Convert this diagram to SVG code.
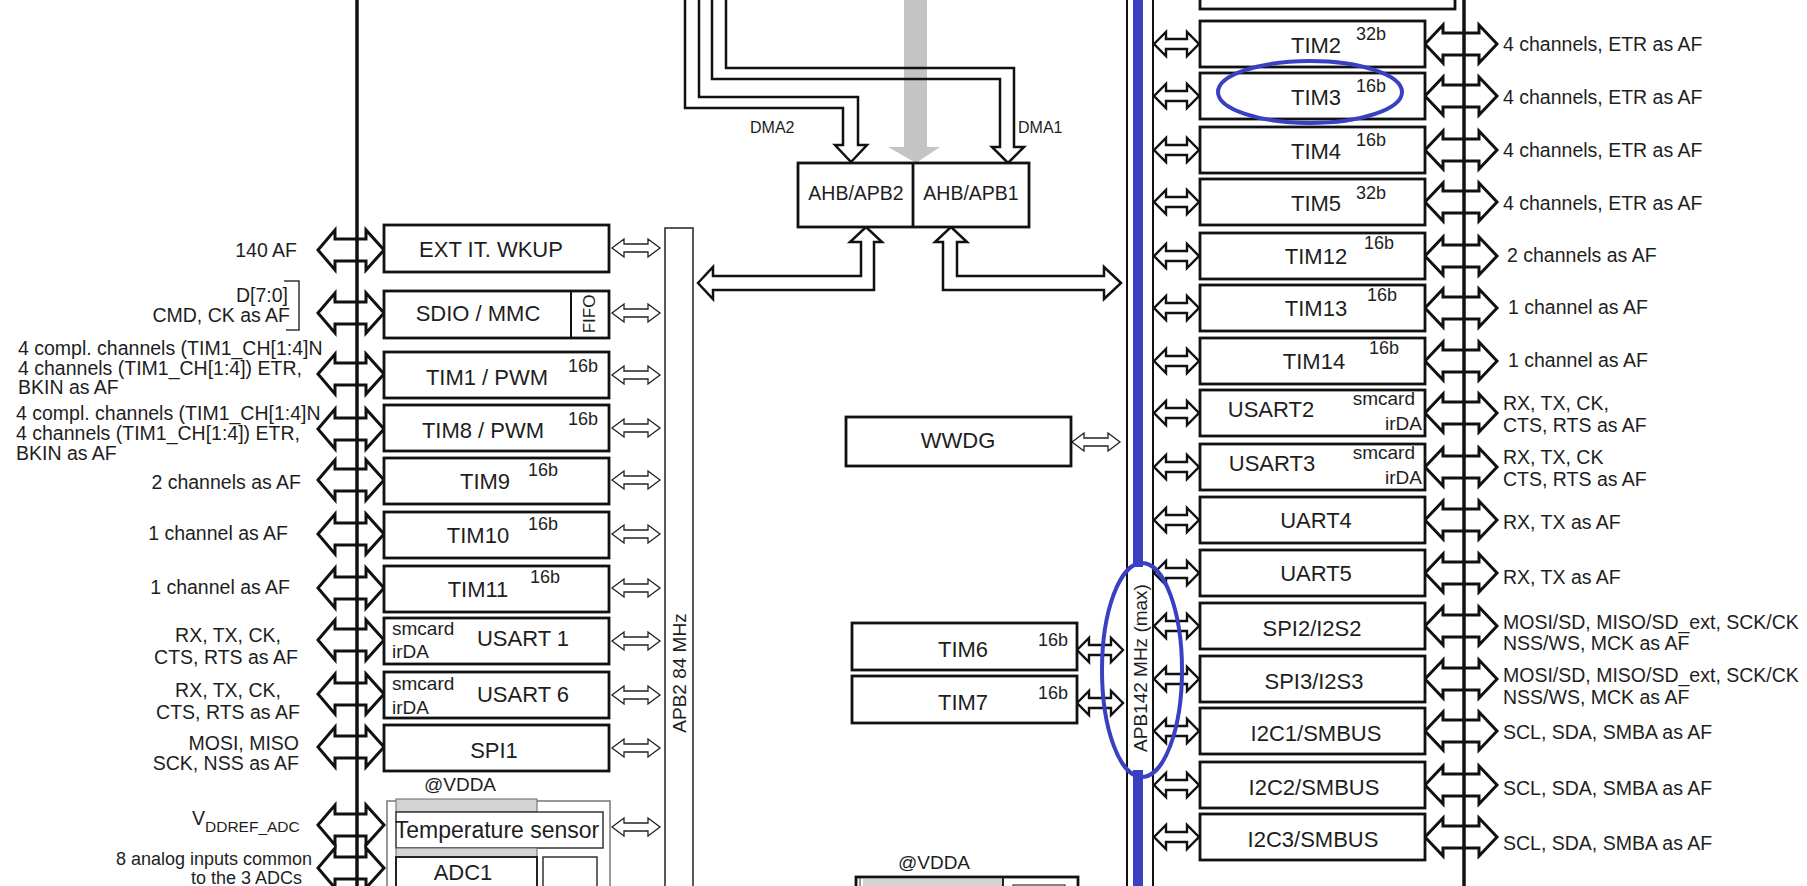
<svg xmlns="http://www.w3.org/2000/svg" width="1807" height="886" viewBox="0 0 1807 886">
<defs>
<style>
text{font-family:"Liberation Sans",Arial,sans-serif;fill:#1e1e1e}
.bx{font-size:22px;text-anchor:middle}
.lb{font-size:19.5px}
.sp{font-size:18px;text-anchor:middle}
.sm{font-size:19px}
.end{text-anchor:end}
.mid{text-anchor:middle}
.box{fill:#fff;stroke:#111;stroke-width:2.8}
.fat{fill:#fff;stroke:#111;stroke-width:3}
.thin{fill:#fff;stroke:#222;stroke-width:1.3}
.med{fill:#fff;stroke:#111;stroke-width:2.4}
.ln{fill:none;stroke:#111;stroke-width:2.5}
.bus{stroke:#111;stroke-width:3.5}
.hl{fill:none;stroke:#3a40c2;stroke-width:4}
</style>
<path id="fl" d="M318,0 L335,-20 V-11 H366 V-20 L384,0 L366,20 V11 H335 V20 Z"/>
<path id="fr" d="M1425,0 L1443,-19 V-11 H1479 V-19 L1497,0 L1479,19 V11 H1443 V19 Z"/>
<path id="sl" d="M612,0 L624,-9 V-4 H648 V-9 L660,0 L648,9 V4 H624 V9 Z"/>
<path id="sr" d="M1154,0 L1166,-12 V-5 H1187 V-12 L1199,0 L1187,12 V5 H1166 V12 Z"/>
<path id="s6" d="M1077,0 L1089,-12 V-5 H1111 V-12 L1123,0 L1111,12 V5 H1089 V12 Z"/>
</defs>
<rect width="1807" height="886" fill="#fff"/>

<!-- bus bars -->
<g id="apb2-bus">
<rect x="665" y="228" width="28" height="680" fill="#fff" stroke="#222" stroke-width="1.5"/>
<text class="sm mid" transform="translate(686,673) rotate(-90)">APB2 84 MHz</text>
</g>
<g id="apb1-bus">
<line x1="1127" y1="0" x2="1127" y2="886" stroke="#111" stroke-width="2"/>
<line x1="1153" y1="0" x2="1153" y2="886" stroke="#111" stroke-width="2"/>
<line x1="1138" y1="0" x2="1138" y2="567" stroke="#3a40c2" stroke-width="10"/>
<line x1="1138" y1="770" x2="1138" y2="886" stroke="#3a40c2" stroke-width="10"/>
<text class="sm mid" transform="translate(1147,668) rotate(-90)">APB142 MHz (max)</text>
</g>

<g id="connectors">
<!-- gray AHB arrow -->
<path d="M904,0 V147 H888 L916,163 L940,147 H927 V0 Z" fill="#c4c4c4"/>
<!-- DMA2 -->
<path class="ln" d="M685,0 V108 H843 V145 H835 L851,162 L867,145 H858 V97 H699 V0"/>
<!-- DMA1 -->
<path class="ln" d="M712,0 V79 H1000 V147 H992 L1008,163 L1024,147 H1014 V68 H726 V0"/>
<!-- AHB/APB2 to APB2 -->
<path class="ln" fill="#fff" d="M698,283 L713,267 V276 H861 V242 H850 L866,227 L882,242 H874 V290 H713 V299 Z"/>
<!-- AHB/APB1 to APB1 -->
<path class="ln" fill="#fff" d="M1121,283 L1104,267 V276 H957 V242 H967 L951,227 L935,242 H943 V290 H1104 V299 Z"/>
<!-- left fat arrows -->
<use href="#fl" class="fat" y="250"/>
<use href="#fl" class="fat" y="313"/>
<use href="#fl" class="fat" y="374"/>
<use href="#fl" class="fat" y="429"/>
<use href="#fl" class="fat" y="480"/>
<use href="#fl" class="fat" y="534"/>
<use href="#fl" class="fat" y="588"/>
<use href="#fl" class="fat" y="640"/>
<use href="#fl" class="fat" y="694"/>
<use href="#fl" class="fat" y="747"/>
<use href="#fl" class="fat" y="825"/>
<use href="#fl" class="fat" y="868"/>
<use href="#fl" class="fat" y="912"/>
<line class="bus" x1="357" y1="0" x2="357" y2="886"/>
<!-- right fat arrows -->
<use href="#fr" class="fat" y="44"/>
<use href="#fr" class="fat" y="96"/>
<use href="#fr" class="fat" y="150"/>
<use href="#fr" class="fat" y="202"/>
<use href="#fr" class="fat" y="256"/>
<use href="#fr" class="fat" y="308"/>
<use href="#fr" class="fat" y="361"/>
<use href="#fr" class="fat" y="413"/>
<use href="#fr" class="fat" y="467"/>
<use href="#fr" class="fat" y="520"/>
<use href="#fr" class="fat" y="573"/>
<use href="#fr" class="fat" y="626"/>
<use href="#fr" class="fat" y="679"/>
<use href="#fr" class="fat" y="731"/>
<use href="#fr" class="fat" y="785"/>
<use href="#fr" class="fat" y="837"/>
<line class="bus" x1="1464" y1="0" x2="1464" y2="886" stroke-width="3"/>
<!-- left small arrows to APB2 -->
<use href="#sl" class="thin" y="248"/>
<use href="#sl" class="thin" y="313"/>
<use href="#sl" class="thin" y="375"/>
<use href="#sl" class="thin" y="428"/>
<use href="#sl" class="thin" y="480"/>
<use href="#sl" class="thin" y="534"/>
<use href="#sl" class="thin" y="588"/>
<use href="#sl" class="thin" y="641"/>
<use href="#sl" class="thin" y="695"/>
<use href="#sl" class="thin" y="748"/>
<use href="#sl" class="thin" y="827"/>
<!-- right small arrows from APB1 -->
<use href="#sr" class="med" y="44"/>
<use href="#sr" class="med" y="96"/>
<use href="#sr" class="med" y="150"/>
<use href="#sr" class="med" y="202"/>
<use href="#sr" class="med" y="256"/>
<use href="#sr" class="med" y="308"/>
<use href="#sr" class="med" y="361"/>
<use href="#sr" class="med" y="413"/>
<use href="#sr" class="med" y="467"/>
<use href="#sr" class="med" y="520"/>
<use href="#sr" class="med" y="573"/>
<use href="#sr" class="med" y="626"/>
<use href="#sr" class="med" y="679"/>
<use href="#sr" class="med" y="731"/>
<use href="#sr" class="med" y="785"/>
<use href="#sr" class="med" y="837"/>
<!-- WWDG, TIM6, TIM7 -->
<path class="thin" d="M1072,442 L1084,433 V438 H1108 V433 L1120,442 L1108,451 V446 H1084 V451 Z"/>
<use href="#s6" class="med" y="650"/>
<use href="#s6" class="med" y="703"/>
</g>

<!-- middle -->
<g id="ahb-apb">
<rect class="box" x="798" y="163" width="231" height="64"/>
<line x1="913" y1="163" x2="913" y2="227" stroke="#111" stroke-width="2.8"/>
<text class="mid" style="font-size:19.5px" x="856" y="200">AHB/APB2</text>
<text class="mid" style="font-size:19.5px" x="971" y="200">AHB/APB1</text>
<text style="font-size:16px" x="750" y="133">DMA2</text>
<text style="font-size:16px" x="1018" y="133">DMA1</text>
</g>
<g id="wwdg"><rect class="box" x="846" y="417" width="225" height="49"/><text class="bx" x="958" y="448">WWDG</text></g>
<g id="tim6"><rect class="box" x="852" y="623" width="225" height="47"/><text class="bx" x="963" y="657">TIM6</text><text class="sp" x="1053" y="646">16b</text></g>
<g id="tim7"><rect class="box" x="852" y="676" width="225" height="47"/><text class="bx" x="963" y="710">TIM7</text><text class="sp" x="1053" y="699">16b</text></g>
<g id="vdda-block">
<text class="mid" style="font-size:19px" x="934" y="869">@VDDA</text>
<rect class="box" x="856" y="877" width="222" height="30"/>
<line x1="860" y1="878" x2="860" y2="886" stroke="#333" stroke-width="1"/>
<rect x="863" y="879" width="140" height="20" fill="#d4d4d4"/>
<line x1="1003" y1="877" x2="1003" y2="886" stroke="#222" stroke-width="2"/>
<rect x="1013" y="885" width="52" height="20" fill="none" stroke="#333" stroke-width="1.2"/>
</g>

<!-- left boxes -->
<g id="ext-it"><rect class="box" x="384" y="225" width="225" height="47"/><text class="bx" x="491" y="257">EXT IT. WKUP</text></g>
<g id="sdio"><rect class="box" x="384" y="291" width="225" height="47"/><line x1="571" y1="291" x2="571" y2="338" stroke="#111" stroke-width="2"/><text class="bx" x="478" y="321">SDIO / MMC</text><text class="mid" style="font-size:17px" transform="translate(595,314) rotate(-90)">FIFO</text></g>
<g id="tim1"><rect class="box" x="384" y="352" width="225" height="46"/><text class="bx" x="487" y="385">TIM1 / PWM</text><text class="sp" x="583" y="372">16b</text></g>
<g id="tim8"><rect class="box" x="384" y="405" width="225" height="46"/><text class="bx" x="483" y="438">TIM8 / PWM</text><text class="sp" x="583" y="425">16b</text></g>
<g id="tim9"><rect class="box" x="384" y="458" width="225" height="46"/><text class="bx" x="485" y="489">TIM9</text><text class="sp" x="543" y="476">16b</text></g>
<g id="tim10"><rect class="box" x="384" y="512" width="225" height="46"/><text class="bx" x="478" y="543">TIM10</text><text class="sp" x="543" y="530">16b</text></g>
<g id="tim11"><rect class="box" x="384" y="566" width="225" height="46"/><text class="bx" x="478" y="597">TIM11</text><text class="sp" x="545" y="583">16b</text></g>
<g id="usart1"><rect class="box" x="384" y="618" width="225" height="46"/><text class="bx" x="523" y="646">USART 1</text><text class="sm" x="392" y="635">smcard</text><text class="sm" x="392" y="658">irDA</text></g>
<g id="usart6"><rect class="box" x="384" y="672" width="225" height="46"/><text class="bx" x="523" y="702">USART 6</text><text class="sm" x="392" y="690">smcard</text><text class="sm" x="392" y="714">irDA</text></g>
<g id="spi1"><rect class="box" x="384" y="725" width="225" height="46"/><text class="bx" x="494" y="758">SPI1</text></g>
<g id="adc-block">
<text class="mid" style="font-size:19px" x="460" y="791">@VDDA</text>
<rect x="387" y="801" width="223" height="100" fill="none" stroke="#777" stroke-width="1.5"/>
<rect x="396" y="799" width="141" height="13" fill="#d4d4d4" stroke="#666" stroke-width="1"/>
<rect x="396" y="812" width="207" height="36" fill="#fff" stroke="#333" stroke-width="1.5"/>
<text class="mid" style="font-size:23px" x="497" y="838">Temperature sensor</text>
<rect x="396" y="848" width="141" height="9" fill="#d4d4d4" stroke="#666" stroke-width="1"/>
<rect x="396" y="857" width="141" height="50" fill="#fff" stroke="#222" stroke-width="2"/>
<text class="bx" x="463" y="880">ADC1</text>
<rect x="543" y="857" width="54" height="50" fill="#fff" stroke="#333" stroke-width="1.5"/>
</g>

<!-- right boxes -->
<rect x="1200" y="-40" width="255" height="49" fill="#fff" stroke="#111" stroke-width="2.8"/>
<g id="tim2"><rect class="box" x="1200" y="21" width="225" height="46"/><text class="bx" x="1316" y="53">TIM2</text><text class="sp" x="1371" y="40">32b</text></g>
<g id="tim3"><rect class="box" x="1200" y="73" width="225" height="46"/><text class="bx" x="1316" y="105">TIM3</text><text class="sp" x="1371" y="92">16b</text></g>
<g id="tim4"><rect class="box" x="1200" y="127" width="225" height="46"/><text class="bx" x="1316" y="159">TIM4</text><text class="sp" x="1371" y="146">16b</text></g>
<g id="tim5"><rect class="box" x="1200" y="179" width="225" height="46"/><text class="bx" x="1316" y="211">TIM5</text><text class="sp" x="1371" y="199">32b</text></g>
<g id="tim12"><rect class="box" x="1200" y="233" width="225" height="46"/><text class="bx" x="1316" y="264">TIM12</text><text class="sp" x="1379" y="249">16b</text></g>
<g id="tim13"><rect class="box" x="1200" y="285" width="225" height="46"/><text class="bx" x="1316" y="316">TIM13</text><text class="sp" x="1382" y="301">16b</text></g>
<g id="tim14"><rect class="box" x="1200" y="338" width="225" height="46"/><text class="bx" x="1314" y="369">TIM14</text><text class="sp" x="1384" y="354">16b</text></g>
<g id="usart2"><rect class="box" x="1200" y="390" width="225" height="46"/><text class="bx" x="1271" y="417">USART2</text><text class="sm end" x="1415" y="405">smcard</text><text class="sm end" x="1422" y="430">irDA</text></g>
<g id="usart3"><rect class="box" x="1200" y="444" width="225" height="46"/><text class="bx" x="1272" y="471">USART3</text><text class="sm end" x="1415" y="459">smcard</text><text class="sm end" x="1422" y="484">irDA</text></g>
<g id="uart4"><rect class="box" x="1200" y="497" width="225" height="46"/><text class="bx" x="1316" y="528">UART4</text></g>
<g id="uart5"><rect class="box" x="1200" y="550" width="225" height="46"/><text class="bx" x="1316" y="581">UART5</text></g>
<g id="spi2"><rect class="box" x="1200" y="603" width="225" height="46"/><text class="bx" x="1312" y="636">SPI2/I2S2</text></g>
<g id="spi3"><rect class="box" x="1200" y="656" width="225" height="46"/><text class="bx" x="1314" y="689">SPI3/I2S3</text></g>
<g id="i2c1"><rect class="box" x="1200" y="708" width="225" height="46"/><text class="bx" x="1316" y="741">I2C1/SMBUS</text></g>
<g id="i2c2"><rect class="box" x="1200" y="762" width="225" height="46"/><text class="bx" x="1314" y="795">I2C2/SMBUS</text></g>
<g id="i2c3"><rect class="box" x="1200" y="814" width="225" height="46"/><text class="bx" x="1313" y="847">I2C3/SMBUS</text></g>

<!-- pin labels -->
<g id="left-labels">
<text class="lb end" x="297" y="257">140 AF</text>
<text class="lb end" x="288" y="302">D[7:0]</text>
<text class="lb end" x="290" y="322">CMD, CK as AF</text>
<path d="M284,281 H299 V330 H286" fill="none" stroke="#333" stroke-width="1.5"/>
<text class="lb" x="18" y="355">4 compl. channels (TIM1_CH[1:4]N</text>
<text class="lb" x="18" y="375">4 channels (TIM1_CH[1:4]) ETR,</text>
<text class="lb" x="18" y="394">BKIN as AF</text>
<text class="lb" x="16" y="420">4 compl. channels (TIM1_CH[1:4]N</text>
<text class="lb" x="16" y="440">4 channels (TIM1_CH[1:4]) ETR,</text>
<text class="lb" x="16" y="460">BKIN as AF</text>
<text class="lb end" x="301" y="489">2 channels as AF</text>
<text class="lb end" x="288" y="540">1 channel as AF</text>
<text class="lb end" x="290" y="594">1 channel as AF</text>
<text class="lb mid" x="228" y="642">RX, TX, CK,</text>
<text class="lb mid" x="226" y="664">CTS, RTS as AF</text>
<text class="lb mid" x="228" y="697">RX, TX, CK,</text>
<text class="lb mid" x="228" y="719">CTS, RTS as AF</text>
<text class="lb end" x="299" y="750">MOSI, MISO</text>
<text class="lb end" x="299" y="770">SCK, NSS as AF</text>
<text class="lb" x="192" y="825">V<tspan dy="7" style="font-size:15.5px">DDREF_ADC</tspan></text>
<text class="end" style="font-size:18px" x="312" y="865">8 analog inputs common</text>
<text class="end" style="font-size:18px" x="302" y="884">to the 3 ADCs</text>
</g>
<g id="right-labels">
<text class="lb" x="1503" y="51">4 channels, ETR as AF</text>
<text class="lb" x="1503" y="104">4 channels, ETR as AF</text>
<text class="lb" x="1503" y="157">4 channels, ETR as AF</text>
<text class="lb" x="1503" y="210">4 channels, ETR as AF</text>
<text class="lb" x="1507" y="262">2 channels as AF</text>
<text class="lb" x="1508" y="314">1 channel as AF</text>
<text class="lb" x="1508" y="367">1 channel as AF</text>
<text class="lb" x="1503" y="410">RX, TX, CK,</text>
<text class="lb" x="1503" y="432">CTS, RTS as AF</text>
<text class="lb" x="1503" y="464">RX, TX, CK</text>
<text class="lb" x="1503" y="486">CTS, RTS as AF</text>
<text class="lb" x="1503" y="529">RX, TX as AF</text>
<text class="lb" x="1503" y="584">RX, TX as AF</text>
<text class="lb" x="1503" y="629">MOSI/SD, MISO/SD_ext, SCK/CK</text>
<text class="lb" x="1503" y="650">NSS/WS, MCK as AF</text>
<text class="lb" x="1503" y="682">MOSI/SD, MISO/SD_ext, SCK/CK</text>
<text class="lb" x="1503" y="704">NSS/WS, MCK as AF</text>
<text class="lb" x="1503" y="739">SCL, SDA, SMBA as AF</text>
<text class="lb" x="1503" y="795">SCL, SDA, SMBA as AF</text>
<text class="lb" x="1503" y="850">SCL, SDA, SMBA as AF</text>
</g>

<!-- highlight annotations -->
<g id="highlights">
<ellipse class="hl" cx="1310" cy="92" rx="92" ry="31" stroke-width="3"/>
<ellipse class="hl" cx="1142" cy="670" rx="40" ry="107"/>
</g>
</svg>
